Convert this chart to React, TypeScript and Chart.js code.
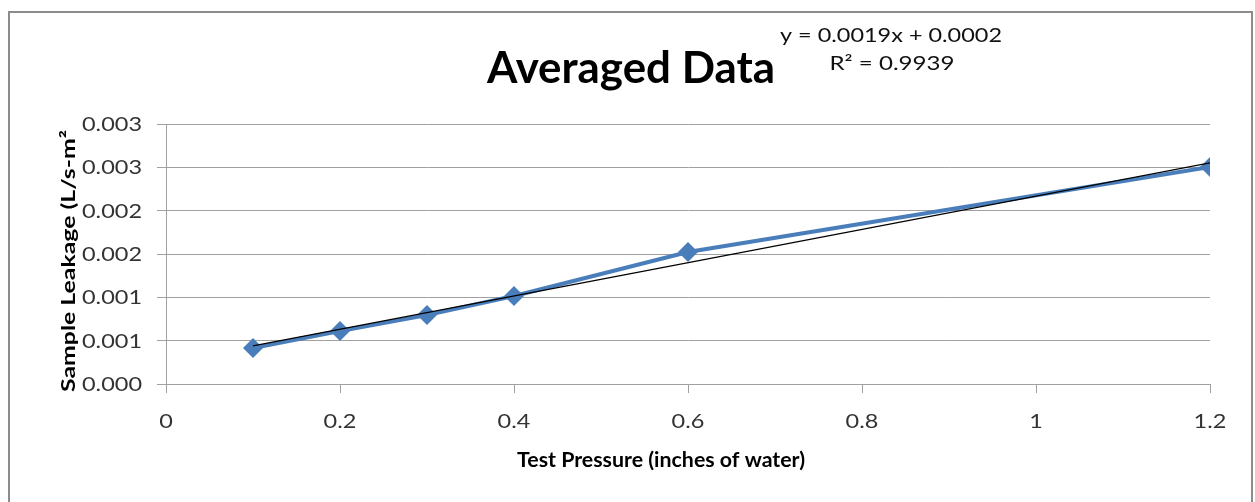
import React, { useEffect, useRef } from "react";
import { Chart, registerables } from "chart.js";

Chart.register(...registerables);

const pressures = [0.1, 0.2, 0.3, 0.4, 0.6, 1.2];
const leakage = [0.000415, 0.000612, 0.000796, 0.001015, 0.001523, 0.002504];
const xTicks = [0, 0.2, 0.4, 0.6, 0.8, 1, 1.2];
const xTickLabels = ["0", "0.2", "0.4", "0.6", "0.8", "1", "1.2"];
const yTickValues = [0, 0.0005, 0.001, 0.0015, 0.002, 0.0025, 0.003];
const yTickLabels = ["0.000", "0.001", "0.001", "0.002", "0.002", "0.003", "0.003"];
const titleText = "Averaged Data";
const equationText = "y = 0.0019x + 0.0002";
const r2Text = "R² = 0.9939";
const xTitle = "Test Pressure (inches of water)";
const yTitle = "Sample Leakage (L/s-m²";

const FONT = "Lato, 'Open Sans', sans-serif";

function fit(xs: number[], ys: number[]) {
  const n = xs.length;
  const mx = xs.reduce((a, b) => a + b, 0) / n;
  const my = ys.reduce((a, b) => a + b, 0) / n;
  let sxx = 0, sxy = 0;
  for (let i = 0; i < n; i++) {
    sxx += (xs[i] - mx) ** 2;
    sxy += (xs[i] - mx) * (ys[i] - my);
  }
  const m = sxy / sxx;
  return { m, b: my - m * mx };
}

function drawFit(ctx: CanvasRenderingContext2D, text: string, cx: number, base: number, font: string, width: number, color: string) {
  ctx.save();
  ctx.font = font;
  ctx.fillStyle = color;
  ctx.textAlign = "center";
  ctx.textBaseline = "alphabetic";
  const w = ctx.measureText(text).width;
  const sx = width / w;
  ctx.translate(cx, base);
  ctx.scale(sx, 1);
  ctx.fillText(text, 0, 0);
  ctx.restore();
}

export default function App() {
  const ref = useRef<HTMLCanvasElement>(null);
  useEffect(() => {
    if (!ref.current) return;
    const { m, b } = fit(pressures, leakage);
    const x0 = pressures[0];
    const x1 = pressures[pressures.length - 1];
    const decor = {
      id: "decor",
      afterDraw(chart: any) {
        const ctx = chart.ctx as CanvasRenderingContext2D;
        ctx.save();
        ctx.strokeStyle = "#8c8c8c";
        ctx.lineWidth = 2;
        ctx.strokeRect(9, 12, 1243, 500);
        ctx.restore();

        drawFit(ctx, titleText, 631, 83, `bold 44px ${FONT}`, 288, "#000");
        drawFit(ctx, equationText, 891, 42, `19px ${FONT}`, 222, "#111");
        drawFit(ctx, r2Text, 892, 70, `19px ${FONT}`, 125, "#111");
        drawFit(ctx, xTitle, 661, 467, `bold 20px ${FONT}`, 288, "#000");

        ctx.save();
        ctx.translate(75, 261);
        ctx.rotate(-Math.PI / 2);
        drawFit(ctx, yTitle, 0, 0, `bold 19px ${FONT}`, 262, "#000");
        ctx.restore();

        const tickFont = `19.5px ${FONT}`;
        ctx.save();
        ctx.font = tickFont;
        const sx = 60 / ctx.measureText("0.003").width;
        ctx.restore();
        const ys = chart.scales.y;
        yTickValues.forEach((v, i) => {
          const py = ys.getPixelForValue(v);
          ctx.save();
          ctx.font = tickFont;
          ctx.fillStyle = "#333";
          ctx.textAlign = "right";
          ctx.textBaseline = "alphabetic";
          ctx.translate(142, py + 7);
          ctx.scale(sx, 1);
          ctx.fillText(yTickLabels[i], 0, 0);
          ctx.restore();
        });
        const xs = chart.scales.x;
        xTicks.forEach((v, i) => {
          const px = xs.getPixelForValue(v);
          ctx.save();
          ctx.font = tickFont;
          ctx.fillStyle = "#333";
          ctx.textAlign = "center";
          ctx.textBaseline = "alphabetic";
          ctx.translate(px, 428);
          ctx.scale(sx, 1);
          ctx.fillText(xTickLabels[i], 0, 0);
          ctx.restore();
        });
      },
    };
    const chart = new Chart(ref.current, {
      type: "scatter",
      data: {
        datasets: [
          {
            label: "Trend",
            data: [
              { x: x0, y: m * x0 + b },
              { x: x1, y: m * x1 + b },
            ],
            showLine: true,
            borderColor: "#000000",
            borderWidth: 1.2,
            pointRadius: 0,
            order: 0,
          },
          {
            label: "Averaged",
            data: pressures.map((p, i) => ({ x: p, y: leakage[i] })),
            showLine: true,
            borderColor: "#4a7ebb",
            backgroundColor: "#4a7ebb",
            borderWidth: 4,
            pointStyle: "rectRot",
            pointRadius: 10,
            pointBorderWidth: 0,
            order: 1,
          },
        ],
      },
      options: {
        animation: false,
        responsive: false,
        events: [],
        layout: { padding: { left: 0, right: 45, top: 124, bottom: 0 } },
        plugins: { legend: { display: false }, tooltip: { enabled: false } },
        scales: {
          x: {
            type: "linear",
            min: 0,
            max: 1.2,
            afterFit: (s: any) => { s.height = 118; },
            afterBuildTicks: (s: any) => { s.ticks = xTicks.map((v) => ({ value: v })); },
            ticks: { display: false },
            grid: { drawOnChartArea: false, drawTicks: true, tickLength: 9, color: "#a0a0a0" },
            border: { color: "#a0a0a0", width: 1 },
          },
          y: {
            type: "linear",
            min: 0,
            max: 0.003,
            afterFit: (s: any) => { s.width = 166; },
            afterBuildTicks: (s: any) => { s.ticks = yTickValues.map((v) => ({ value: v })); },
            ticks: { display: false },
            grid: { drawOnChartArea: true, drawTicks: true, tickLength: 9, color: "#a0a0a0" },
            border: { color: "#a0a0a0", width: 1 },
          },
        },
      },
      plugins: [decor],
    } as any);
    return () => chart.destroy();
  }, []);
  return (
    <div style={{ position: "fixed", left: 0, top: 0, width: 1255, height: 502, background: "#fff" }}>
      <canvas ref={ref} width={1255} height={502} style={{ width: 1255, height: 502, display: "block" }} />
    </div>
  );
}
